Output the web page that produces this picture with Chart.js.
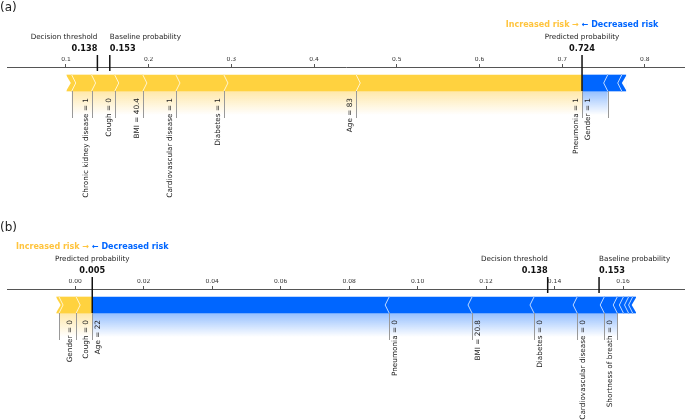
<!DOCTYPE html>
<html>
<head>
<meta charset="utf-8">
<script src="https://cdn.jsdelivr.net/npm/chart.js@4.4.1/dist/chart.umd.min.js"></script>
<style>
  html, body { margin: 0; padding: 0; background: #fff; }
  canvas { position: absolute; left: 0; }
  #chartA { top: 0; }
  #chartB { top: 210px; }
</style>
</head>
<body>
<canvas id="chartA" width="685" height="210"></canvas>
<canvas id="chartB" width="685" height="210"></canvas>
<script>
// ---- Painel (a) ----
const ticksA = [0.1, 0.2, 0.3, 0.4, 0.5, 0.6, 0.7, 0.8];
const predA = 0.724;
const thresholdA = 0.138;
const baselineA = 0.153;
// aumentam o risco, do mais perto da previsão para o mais longe
const incLabelsA = ['Pneumonia = 1', 'Age = 83', 'Diabetes = 1', 'Cardiovascular disease = 1', 'BMI = 40.4', 'Cough = 0', 'Chronic kidney disease = 1', ''];
const incValuesA = [0.273, 0.160, 0.058, 0.040, 0.034, 0.028, 0.024, 0.006];
// diminuem o risco
const decLabelsA = ['Gender = 1', '', ''];
const decValuesA = [0.031, 0.017, 0.005];

// ---- Painel (b) ----
const ticksB = [0.00, 0.02, 0.04, 0.06, 0.08, 0.10, 0.12, 0.14, 0.16];
const predB = 0.005;
const thresholdB = 0.138;
const baselineB = 0.153;
const incLabelsB = ['Cough = 0', 'Gender = 0', ''];
const incValuesB = [0.0047, 0.0050, 0.0007];
const decLabelsB = ['Age = 22', 'Pneumonia = 0', 'BMI = 20.8', 'Diabetes = 0', 'Cardiovascular disease = 0', 'Shortness of breath = 0', '', '', '', ''];
const decValuesB = [0.0867, 0.0242, 0.0181, 0.0126, 0.0079, 0.0038, 0.0018, 0.0015, 0.0012, 0.0009];

const YELLOW = '#FFD23F';
const BLUE = '#0066FF';
const FONT = '"DejaVu Sans", Verdana, sans-serif';

function forcePlot(canvasId, p) {
  // monta os segmentos empilhados a partir da previsão
  const incSegs = [];
  let x = p.pred;
  p.incValues.forEach((v, i) => { incSegs.push({ from: x - v, to: x, label: p.incLabels[i] }); x -= v; });
  const decSegs = [];
  x = p.pred;
  p.decValues.forEach((v, i) => { decSegs.push({ from: x, to: x + v, label: p.decLabels[i] }); x += v; });

  const datasets = [];
  incSegs.forEach(s => datasets.push({ data: [[s.from, s.to]], backgroundColor: YELLOW }));
  decSegs.forEach(s => datasets.push({ data: [[s.from, s.to]], backgroundColor: BLUE }));

  const decor = {
    id: 'decor',
    afterDatasetsDraw(chart) {
      const ctx = chart.ctx;
      const xs = chart.scales.x;
      const px = v => xs.getPixelForValue(v);
      const b = chart.getDatasetMeta(0).data[0].getProps(['y', 'height'], true);
      const top = b.y - b.height / 2, bottom = b.y + b.height / 2, mid = b.y;
      const axisY = chart.chartArea.top;

      ctx.save();

      // sombreado abaixo da barra
      const labInc = incSegs.filter(s => s.label);
      const labDec = decSegs.filter(s => s.label);
      function shade(x0, x1, rgb) {
        const g = ctx.createLinearGradient(0, bottom, 0, bottom + 24);
        g.addColorStop(0, 'rgba(' + rgb + ',0.42)');
        g.addColorStop(1, 'rgba(' + rgb + ',0)');
        ctx.fillStyle = g;
        ctx.fillRect(x0, bottom, x1 - x0, 24);
      }
      if (labInc.length) shade(px(Math.min(...labInc.map(s => s.from))), px(p.pred), '255,200,50');
      if (labDec.length) shade(px(p.pred), px(Math.max(...labDec.map(s => s.to))), '0,102,255');

      // chevrons
      ctx.strokeStyle = 'rgba(255,255,255,0.75)';
      ctx.lineWidth = 1;
      function chevron(bx, dir) {
        ctx.beginPath();
        ctx.moveTo(bx, top);
        ctx.lineTo(bx + dir * 4, mid);
        ctx.lineTo(bx, bottom);
        ctx.stroke();
      }
      incSegs.forEach((s, i) => { if (i > 0) chevron(px(s.to), 1); });
      decSegs.forEach((s, i) => { if (i > 0) chevron(px(s.from), -1); });

      // entalhes nas pontas
      ctx.fillStyle = '#fff';
      const x0 = px(incSegs[incSegs.length - 1].from);
      ctx.beginPath();
      ctx.moveTo(x0 - 1, top - 0.5); ctx.lineTo(x0 + 4, mid); ctx.lineTo(x0 - 1, bottom + 0.5);
      ctx.closePath(); ctx.fill();
      const x1 = px(decSegs[decSegs.length - 1].to);
      ctx.beginPath();
      ctx.moveTo(x1 + 1, top - 0.5); ctx.lineTo(x1 - 4, mid); ctx.lineTo(x1 + 1, bottom + 0.5);
      ctx.closePath(); ctx.fill();

      // linhas e rótulos das variáveis
      ctx.strokeStyle = '#999';
      ctx.lineWidth = 1;
      function drop(v) {
        const lx = Math.round(px(v)) + 0.5;
        ctx.beginPath(); ctx.moveTo(lx, bottom); ctx.lineTo(lx, bottom + 27); ctx.stroke();
      }
      ctx.fillStyle = '#222';
      ctx.font = '7.3px ' + FONT;
      function label(lx, text) {
        ctx.save();
        ctx.translate(lx, bottom + 7);
        ctx.rotate(-Math.PI / 2);
        ctx.textAlign = 'right';
        ctx.textBaseline = 'middle';
        ctx.fillText(text, 0, 0);
        ctx.restore();
      }
      labInc.forEach(s => { drop(s.from); drop(s.to); label(px(s.to) - 6, s.label); });
      labDec.forEach(s => { drop(s.from); drop(s.to); label(px(s.from) + 6, s.label); });

      // previsão, limiar e linha de base
      ctx.strokeStyle = '#111';
      ctx.lineWidth = 1.5;
      const pp = px(p.pred);
      ctx.beginPath(); ctx.moveTo(pp, axisY - 12); ctx.lineTo(pp, bottom); ctx.stroke();
      [p.threshold, p.baseline].forEach(v => {
        ctx.beginPath(); ctx.moveTo(px(v), axisY - 12); ctx.lineTo(px(v), axisY + 4); ctx.stroke();
      });

      ctx.textBaseline = 'middle';
      ctx.fillStyle = '#222';
      ctx.font = '7.2px ' + FONT;
      ctx.textAlign = 'center';
      ctx.fillText('Predicted probability', pp, axisY - 30);
      ctx.textAlign = 'right';
      ctx.fillText('Decision threshold', px(p.threshold), axisY - 30);
      ctx.textAlign = 'left';
      ctx.fillText('Baseline probability', px(p.baseline), axisY - 30);

      ctx.fillStyle = '#111';
      ctx.font = 'bold 8.2px ' + FONT;
      ctx.textAlign = 'center';
      ctx.fillText(p.pred.toFixed(3), pp, axisY - 18);
      ctx.textAlign = 'right';
      ctx.fillText(p.threshold.toFixed(3), px(p.threshold), axisY - 18);
      ctx.textAlign = 'left';
      ctx.fillText(p.baseline.toFixed(3), px(p.baseline), axisY - 18);

      // cabeçalho
      ctx.font = 'bold 8px ' + FONT;
      const t1 = 'Increased risk \u2192', t2 = ' \u2190 Decreased risk';
      const w1 = ctx.measureText(t1).width, w2 = ctx.measureText(t2).width;
      const sx = pp - (w1 + w2) / 2;
      ctx.textAlign = 'left';
      ctx.fillStyle = '#FFC43D';
      ctx.fillText(t1, sx, axisY - 42);
      ctx.fillStyle = BLUE;
      ctx.fillText(t2, sx + w1, axisY - 42);

      // letra do painel
      ctx.fillStyle = '#222';
      ctx.font = '12px ' + FONT;
      ctx.fillText(p.letter, 0, p.letterY);

      ctx.restore();
    }
  };

  return new Chart(document.getElementById(canvasId), {
    type: 'bar',
    data: { labels: [''], datasets: datasets },
    options: {
      indexAxis: 'y',
      responsive: false,
      animation: false,
      layout: { padding: p.padding },
      datasets: { bar: { barThickness: 16, grouped: false, borderWidth: 0, borderSkipped: false } },
      plugins: { legend: { display: false }, tooltip: { enabled: false } },
      scales: {
        x: {
          type: 'linear',
          position: 'top',
          min: p.min,
          max: p.max,
          afterBuildTicks: s => { s.ticks = p.ticks.map(v => ({ value: v })); },
          afterFit: s => { s.height = 10; },
          ticks: {
            font: { family: FONT, size: 6 },
            color: '#333',
            padding: 1,
            autoSkip: false,
            maxRotation: 0,
            callback: v => Number(v).toFixed(p.decimals)
          },
          grid: { drawOnChartArea: false, drawTicks: true, tickLength: 3, color: '#555' },
          border: { display: true, color: '#555', width: 1 }
        },
        y: { display: false }
      }
    },
    plugins: [decor]
  });
}

forcePlot('chartA', {
  ticks: ticksA, pred: predA, threshold: thresholdA, baseline: baselineA,
  incLabels: incLabelsA, incValues: incValuesA, decLabels: decLabelsA, decValues: decValuesA,
  min: 0.0287, max: 0.8485, decimals: 1,
  padding: { top: 57, left: 7, right: 0, bottom: 111 },
  letter: '(a)', letterY: 8
});

forcePlot('chartB', {
  ticks: ticksB, pred: predB, threshold: thresholdB, baseline: baselineB,
  incLabels: incLabelsB, incValues: incValuesB, decLabels: decLabelsB, decValues: decValuesB,
  min: -0.0199, max: 0.1781, decimals: 2,
  padding: { top: 69, left: 7, right: 0, bottom: 99 },
  letter: '(b)', letterY: 18
});
</script>
</body>
</html>
